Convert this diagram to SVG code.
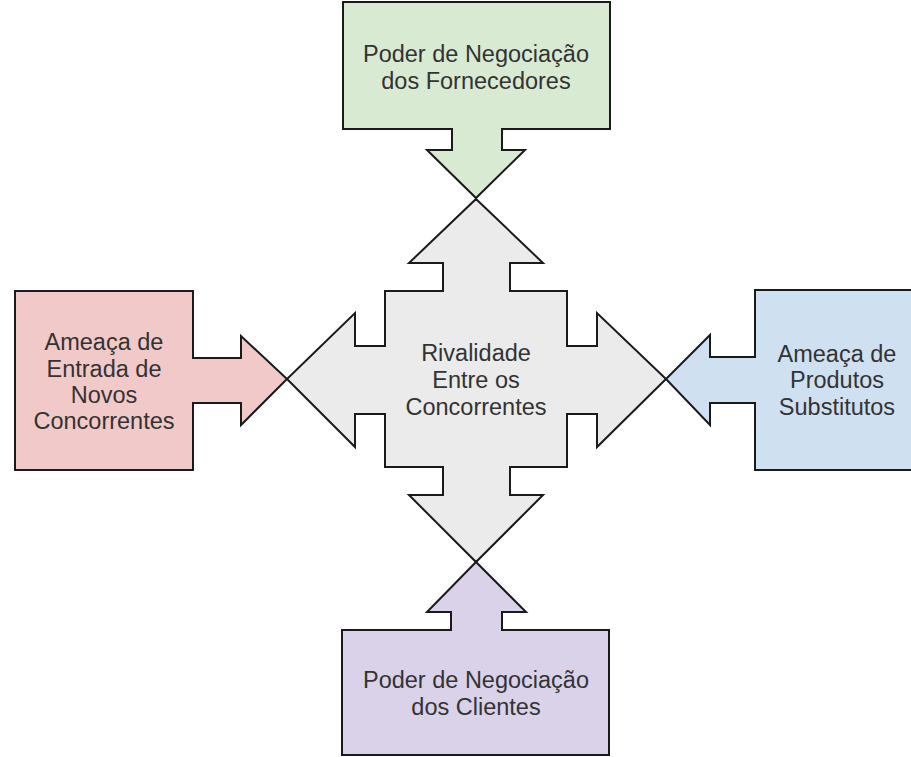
<svg xmlns="http://www.w3.org/2000/svg" width="911" height="757" viewBox="0 0 911 757">
<style>
.box{stroke:#1a1a1a;stroke-width:2;stroke-linejoin:miter}
.t{font-family:"Liberation Sans",Arial,sans-serif;font-size:23.5px;fill:#333;text-anchor:middle}
</style>
<rect width="911" height="757" fill="#ffffff"/>
<g id="connectors"></g>
<g id="rivalidade">
<path class="box" fill="#ebebeb" d="M476,199 L543,263 L510,263 L510,291 L567,291 L567,346 L597,346 L597,313 L666,379 L597,447 L597,414 L567,414 L567,467 L510,467 L510,495 L543,495 L476,562 L409,495 L443,495 L443,467 L385,467 L385,414 L355,414 L355,447 L287,379 L355,313 L355,346 L385,346 L385,291 L443,291 L443,263 L409,263 Z"/>
<text class="t" x="476" y="361">Rivalidade</text>
<text class="t" x="476" y="388">Entre os</text>
<text class="t" x="476" y="415">Concorrentes</text>
</g>
<g id="fornecedores">
<path class="box" fill="#d9ead3" d="M343,2 L610,2 L610,129 L502,129 L502,150 L525,150 L476,198 L427,150 L452,150 L452,129 L343,129 Z"/>
<text class="t" x="476" y="62">Poder de Negociação</text>
<text class="t" x="476" y="89">dos Fornecedores</text>
</g>
<g id="novos">
<path class="box" fill="#f2c9c9" d="M15,291 L193,291 L193,358 L241,358 L241,336 L287,379 L241,425 L241,403 L193,403 L193,470 L15,470 Z"/>
<text class="t" x="104" y="350">Ameaça de</text>
<text class="t" x="104" y="377">Entrada de</text>
<text class="t" x="104" y="403">Novos</text>
<text class="t" x="104" y="429">Concorrentes</text>
</g>
<g id="substitutos">
<path class="box" fill="#cfe0f0" d="M920,290 L755,290 L755,357 L710,357 L710,335 L666,379 L710,425 L710,403 L755,403 L755,470 L920,470 Z"/>
<text class="t" x="837" y="362">Ameaça de</text>
<text class="t" x="837" y="388">Produtos</text>
<text class="t" x="837" y="415">Substitutos</text>
</g>
<g id="clientes">
<path class="box" fill="#d9d2e9" d="M342,755 L342,630 L451,630 L451,612 L427,612 L476,562 L526,612 L502,612 L502,630 L609,630 L609,755 Z"/>
<text class="t" x="476" y="688">Poder de Negociação</text>
<text class="t" x="476" y="715">dos Clientes</text>
</g>
</svg>
